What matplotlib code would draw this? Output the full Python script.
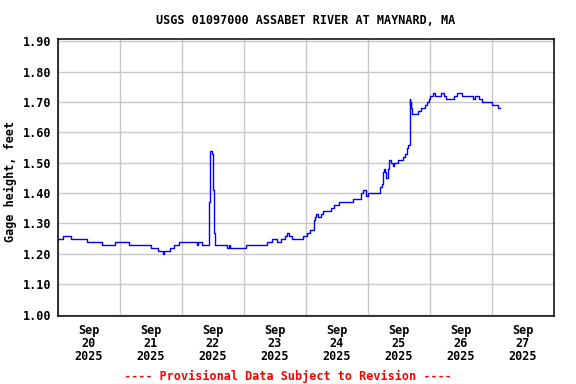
import numpy as np
import pandas as pd
import matplotlib
matplotlib.use('Agg')
import matplotlib.pyplot as plt
import matplotlib.dates as mdates

# gage height readings: hours after 2025-09-20 00:00, value at that step (feet)
hours = [0.0, 2.0, 4.9, 11.3, 16.9, 22.1, 27.4, 35.9, 38.6, 40.8, 41.2, 43.5,
         45.0, 47.0, 53.7, 54.3, 55.6, 58.6, 59.0, 59.6, 59.9, 60.3, 60.6,
         65.3, 66.3, 66.5, 72.6, 81.0, 82.7, 84.6, 86.2, 87.9, 88.8, 89.5,
         90.7, 94.7, 96.5, 97.5, 99.1, 99.5, 99.9, 100.8, 101.7, 102.7,
         105.6, 107.0, 108.9, 114.3, 117.3, 118.2, 119.2, 120.1, 124.8,
         125.3, 125.7, 126.1, 126.6, 126.8, 127.9, 128.2, 128.9, 129.8,
         130.2, 131.7, 133.4, 134.3, 135.2, 135.6, 136.1, 136.4, 136.6,
         136.8, 137.0, 139.5, 140.5, 142.1, 142.7, 143.5, 144.1, 145.0,
         145.9, 148.1, 149.5, 150.4, 153.3, 154.3, 156.5, 160.5, 161.4,
         163.0, 164.0, 167.9, 170.2, 171.0]
gage = [1.25, 1.26, 1.25, 1.24, 1.23, 1.24, 1.23, 1.22, 1.21, 1.20, 1.21, 1.22,
        1.23, 1.24, 1.23, 1.24, 1.23, 1.37, 1.54, 1.53, 1.41, 1.27, 1.23,
        1.22, 1.23, 1.22, 1.23, 1.24, 1.25, 1.24, 1.25, 1.26, 1.27, 1.26,
        1.25, 1.26, 1.27, 1.28, 1.31, 1.32, 1.33, 1.32, 1.33, 1.34,
        1.35, 1.36, 1.37, 1.38, 1.40, 1.41, 1.39, 1.40, 1.42,
        1.43, 1.47, 1.48, 1.47, 1.45, 1.48, 1.51, 1.50, 1.49,
        1.50, 1.51, 1.52, 1.53, 1.55, 1.56, 1.71, 1.69, 1.70,
        1.68, 1.66, 1.67, 1.68, 1.69, 1.70, 1.71, 1.72, 1.73,
        1.72, 1.73, 1.72, 1.71, 1.72, 1.73, 1.72, 1.71, 1.72,
        1.71, 1.70, 1.69, 1.68, 1.68]

start = pd.Timestamp('2025-09-20')
times = start + pd.to_timedelta(hours, unit='h')
y_ticks = [1.00, 1.10, 1.20, 1.30, 1.40, 1.50, 1.60, 1.70, 1.80, 1.90]

font = 'DejaVu Sans Mono'
fig = plt.figure(figsize=(5.76, 3.84), dpi=100)
ax = fig.add_axes([0.1007, 0.177, 0.861, 0.7214])

ax.plot(times, gage, color='#0000ff', lw=1.0, drawstyle='steps-post')

ax.set_xlim(start, start + pd.Timedelta(days=8))
ax.set_ylim(0.995, 1.908)
ax.set_yticks(y_ticks)
ax.set_yticklabels(['%.2f' % v for v in y_ticks], family=font,
                   fontweight='bold', fontsize=8.5)

# gridlines at midnight, labels centred at noon
ax.xaxis.set_major_locator(mdates.DayLocator())
ax.xaxis.set_major_formatter(plt.NullFormatter())
ax.xaxis.set_minor_locator(mdates.HourLocator(byhour=[12]))
ax.xaxis.set_minor_formatter(mdates.DateFormatter('%b\n%d\n%Y'))
ax.tick_params(axis='x', which='both', length=0, pad=5.5)
ax.tick_params(axis='y', length=0, pad=5)
for lab in ax.xaxis.get_minorticklabels():
    lab.set_family(font)
    lab.set_fontweight('bold')
    lab.set_fontsize(8.5)
    lab.set_linespacing(1.0)

ax.grid(True, which='major', color='#c8c8c8', lw=1.0)
ax.set_axisbelow(True)
for s in ax.spines.values():
    s.set_linewidth(1.1)

ax.set_title('USGS 01097000 ASSABET RIVER AT MAYNARD, MA', family=font,
             fontweight='bold', fontsize=8.5, pad=11)
ax.set_ylabel('Gage height, feet', family=font, fontweight='bold',
              fontsize=8.5)
ax.yaxis.set_label_coords(-0.082, 0.485)
fig.text(0.5, 0.002, '---- Provisional Data Subject to Revision ----',
         color='red', family=font, fontweight='bold', fontsize=8.5,
         ha='center', va='bottom')

fig.savefig('out.png', dpi=100)
